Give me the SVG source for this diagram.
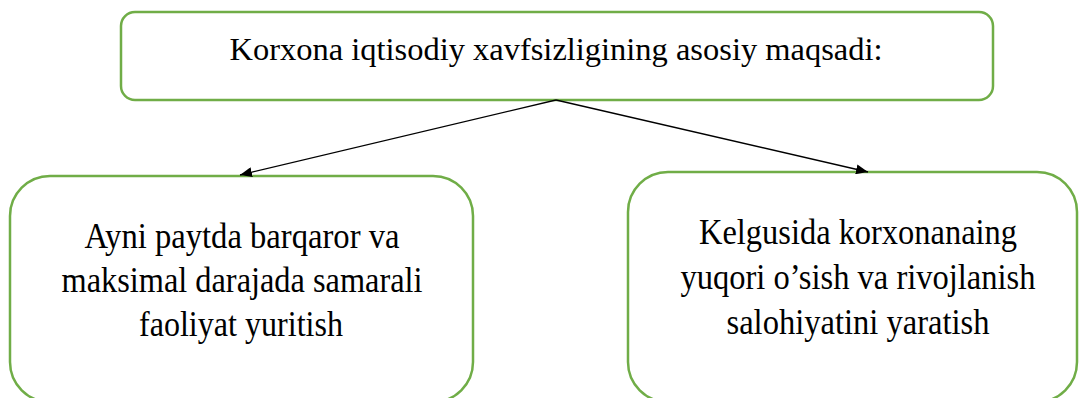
<svg xmlns="http://www.w3.org/2000/svg" width="1081" height="398" viewBox="0 0 1081 398">
<style>
.box{fill:#fff;stroke:#70AD47;stroke-width:2.5}
.t{font-family:"Liberation Serif","Times New Roman",serif;font-size:36px;fill:#000;text-anchor:middle}
.h{font-size:32px}
.c{stroke:#000;stroke-width:1.3;fill:none}
</style>
<defs>
<marker id="ah" viewBox="0 0 12 10" refX="12" refY="5" markerWidth="12" markerHeight="10" markerUnits="userSpaceOnUse" orient="auto">
<path d="M0,0 L12,5 L0,10 z" fill="#000"/>
</marker>
</defs>
<rect width="1081" height="398" fill="#fff"/>
<g id="top">
<rect class="box" x="121" y="12" width="872" height="88" rx="14"/>
<text class="t h" x="556" y="60" textLength="653" lengthAdjust="spacingAndGlyphs">Korxona iqtisodiy xavfsizligining asosiy maqsadi:</text>
</g>
<g id="left">
<rect class="box" x="10" y="176" width="463" height="226" rx="40"/>
<text class="t" x="242" y="248" textLength="315" lengthAdjust="spacingAndGlyphs">Ayni paytda barqaror va</text>
<text class="t" x="242" y="292" textLength="361" lengthAdjust="spacingAndGlyphs">maksimal darajada samarali</text>
<text class="t" x="241" y="336" textLength="204" lengthAdjust="spacingAndGlyphs">faoliyat yuritish</text>
</g>
<g id="right">
<rect class="box" x="628" y="172" width="449" height="230" rx="40"/>
<text class="t" x="858" y="244" textLength="318" lengthAdjust="spacingAndGlyphs">Kelgusida korxonanaing</text>
<text class="t" x="858" y="289" textLength="355" lengthAdjust="spacingAndGlyphs">yuqori o’sish va rivojlanish</text>
<text class="t" x="858" y="334" textLength="263" lengthAdjust="spacingAndGlyphs">salohiyatini yaratish</text>
</g>
<g id="connectors">
<line class="c" x1="556" y1="100" x2="240" y2="175" marker-end="url(#ah)"/>
<line class="c" x1="556" y1="100" x2="868" y2="172" marker-end="url(#ah)"/>
</g>
</svg>
